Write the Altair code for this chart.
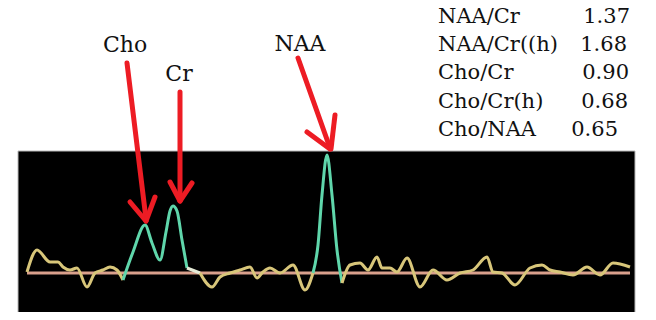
import altair as alt
import pandas as pd

# ---- data ----
# spectrum: position along the spectrum and signal amplitude above baseline
spec_x = [27, 37, 50, 58, 63, 70, 77, 87, 95, 103, 110, 117, 123, 133, 145, 152, 160,
          166, 170, 173, 177, 182, 187, 200, 212, 220, 230, 240, 250, 257, 263, 270,
          280, 293, 305, 313, 318, 322, 327, 332, 337, 342, 350, 360, 368, 377, 382,
          390, 397, 407, 420, 433, 447, 460, 473, 487, 493, 502, 515, 530, 542, 550,
          560, 573, 587, 600, 613, 630]
spec_amp = [1, 23, 11, 11, 6, 3, 5, -14, 0, 3, 6, 3, -7, 21, 48, 30, 13,
            41, 62, 67, 62, 33, 5, 0, -14, -4, 0, 3, 6, -5, 1, 5,
            0, 8, -17, 0, 28, 78, 118, 78, 23, -10, 8, 10, 3, 16, 5,
            5, 1, 15, -14, 3, -7, 0, 3, 16, 1, 0, -12, 5, 8, 3,
            1, -2, 6, -2, 10, 6]

metabolites = ["Cho", "Cr", "NAA"]
ratio_names = ["NAA/Cr", "NAA/Cr((h)", "Cho/Cr", "Cho/Cr(h)", "Cho/NAA"]
ratio_values = ["1.37", "1.68", "0.90", "0.68", "0.65"]

# ---- layout / style ----
FONT = "DejaVu Serif"
XD = [8, 648]
YD = [-39, 265]
xs = alt.Scale(domain=XD, nice=False, zero=False)
ys = alt.Scale(domain=YD, nice=False, zero=False)

# colour segments of the trace (start, end, colour key)
segments = [(27, 123, "noise"), (123, 187, "peak"), (187, 200, "pale"),
            (200, 313, "noise"), (313, 342, "peak"), (342, 630, "noise")]
rows = []
for i, (a, b, key) in enumerate(segments):
    for x, y in zip(spec_x, spec_amp):
        if a <= x <= b:
            rows.append({"x": x, "amp": y, "seg": i, "kind": key})
spec_df = pd.DataFrame(rows)

X = lambda f: alt.X(f, type="quantitative", scale=xs, axis=None)
Y = lambda f: alt.Y(f, type="quantitative", scale=ys, axis=None)

box = alt.Chart(pd.DataFrame({"x": [18], "x2": [635], "y": [122], "y2": [-43]})).mark_rect(
    color="black", stroke="#b8b8b8", strokeWidth=1
).encode(x=X("x"), x2="x2", y=Y("y"), y2="y2")

baseline = alt.Chart(pd.DataFrame({"x": [27], "x2": [630], "y": [0]})).mark_rule(
    color="#d9a08c", strokeWidth=3
).encode(x=X("x"), x2="x2", y=Y("y"))

trace = alt.Chart(spec_df).mark_line(strokeWidth=3, interpolate="monotone").encode(
    x=X("x"), y=Y("amp"),
    detail="seg:N",
    color=alt.Color("kind:N", legend=None,
                    scale=alt.Scale(domain=["noise", "peak", "pale"],
                                    range=["#d8c67a", "#5fd6ab", "#e6ecd8"])),
)

# arrows: shaft + two wings for each metabolite
arrow_geo = {
    "Cho": [(127, 63, 146, 219), (130, 202, 146, 221), (155, 197, 146, 221)],
    "Cr": [(180, 92, 180, 200), (170, 182, 180, 201), (192, 183, 180, 201)],
    "NAA": [(298, 58, 330, 148), (307, 132, 330, 149), (335, 115, 331, 149)],
}
arows = []
for m in metabolites:
    for (x1, y1, x2, y2) in arrow_geo[m]:
        arows.append({"x": x1, "y": 273 - y1, "x2": x2, "y2": 273 - y2})
arrows = alt.Chart(pd.DataFrame(arows)).mark_rule(
    color="#ed1c24", strokeWidth=5, strokeCap="round"
).encode(x=X("x"), y=Y("y"), x2="x2", y2="y2")

label_pos = {"Cho": (125, 52), "Cr": (179, 81), "NAA": (300, 51)}
lab_df = pd.DataFrame([{"t": m, "x": label_pos[m][0], "y": 273 - label_pos[m][1]}
                       for m in metabolites])
labels = alt.Chart(lab_df).mark_text(
    font=FONT, fontSize=22, color="#111111", baseline="alphabetic", align="center"
).encode(x=X("x"), y=Y("y"), text="t:N")

val_right = [630, 627, 629, 628, 618]
tab_rows = []
for i, (n, v) in enumerate(zip(ratio_names, ratio_values)):
    tab_rows.append({"n": n, "v": v, "xn": 438, "xv": val_right[i], "y": 273 - (23 + 28.2 * i)})
tab_df = pd.DataFrame(tab_rows)
names = alt.Chart(tab_df).mark_text(
    font=FONT, fontSize=21, color="#111111", baseline="alphabetic", align="left"
).encode(x=X("xn"), y=Y("y"), text="n:N")
vals = alt.Chart(tab_df).mark_text(
    font=FONT, fontSize=21, color="#111111", baseline="alphabetic", align="right"
).encode(x=X("xv"), y=Y("y"), text="v:N")

chart = alt.layer(box, baseline, trace, arrows, labels, names, vals).properties(
    width=640, height=304, padding=0, autosize=alt.AutoSizeParams(type="none"),
    background="white"
).configure_view(stroke=None)

chart.save("out.html", embed_options={"renderer": "svg", "actions": False})
